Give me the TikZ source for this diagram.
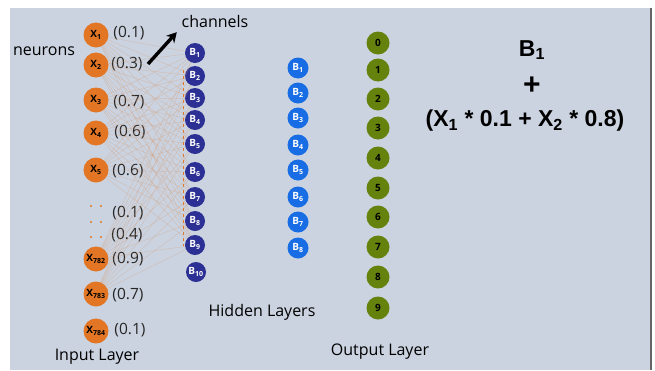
\documentclass[tikz,border=0pt]{standalone}
\usepackage{fontspec}
\setmainfont{Open Sans}
\newfontfamily\formulafont{Liberation Sans}
\usetikzlibrary{positioning, arrows.meta}
\definecolor{bgblue}{RGB}{203,211,224}
\definecolor{inorange}{RGB}{226,118,36}
\definecolor{hidnavy}{RGB}{44,48,148}
\definecolor{hidblue}{RGB}{24,108,228}
\definecolor{outgreen}{RGB}{100,130,12}
\definecolor{wirecol}{RGB}{214,150,105}
\tikzset{
	>=Stealth,
	innode/.style={circle, fill=inorange, minimum size=25pt, inner sep=0pt, font=\bfseries\fontsize{10}{10}\selectfont},
	navynode/.style={circle, fill=hidnavy, text=white, minimum size=20pt, inner sep=0pt, font=\bfseries\fontsize{10}{10}\selectfont},
	bluenode/.style={circle, fill=hidblue, text=white, minimum size=21pt, inner sep=0pt, font=\bfseries\fontsize{10}{10}\selectfont},
	outnode/.style={circle, fill=outgreen, minimum size=23pt, inner sep=0pt, font=\bfseries\fontsize{10}{10}\selectfont},
	weight/.style={font=\fontsize{15.5}{15.5}\selectfont, text=black!85},
	caption/.style={font=\fontsize{16}{16}\selectfont},
	wire/.style={draw=wirecol, opacity=0.4, line width=0.35pt},
	formula/.style={font=\formulafont\bfseries\fontsize{23}{23}\selectfont},
}

\begin{document}
\begin{tikzpicture}[x=1pt, y=-1pt]
	\useasboundingbox (0,0) rectangle (655,370);
	\fill[bgblue] (10,8) rectangle (651,370);
	\draw[black!60, line width=1.5pt] (651,8) -- (651,370);

	% input layer
	\node[innode] (x1) at (96,35) {X\textsubscript{1}};
	\node[innode] (x2) at (96,65) {X\textsubscript{2}};
	\node[innode] (x3) at (96,100) {X\textsubscript{3}};
	\node[innode] (x4) at (96,133) {X\textsubscript{4}};
	\node[innode] (x5) at (96,170) {X\textsubscript{5}};
	\node[innode] (x782) at (96,259) {X\textsubscript{782}};
	\node[innode] (x783) at (96,294) {X\textsubscript{783}};
	\node[innode] (x784) at (96,331) {X\textsubscript{784}};
	\fill[inorange] (91,206) circle (1.1) (101,206) circle (1.1);
	\fill[inorange] (91,222) circle (1.1) (101,222) circle (1.1);
	\fill[inorange] (91,237) circle (1.1) (101,237) circle (1.1);

	\node[weight] (w1) at (129,33) {(0.1)};
	\node[weight] (w2) at (127,64) {(0.3)};
	\node[weight] (w3) at (129,102) {(0.7)};
	\node[weight] (w4) at (130,132) {(0.6)};
	\node[weight] (w5) at (128,171) {(0.6)};
	\node[weight] (w6) at (128,213) {(0.1)};
	\node[weight] (w7) at (127,235) {(0.4)};
	\node[weight] (w8) at (128,259) {(0.9)};
	\node[weight] (w9) at (128,295) {(0.7)};
	\node[weight] (w10) at (130,330) {(0.1)};

	% first hidden layer
	\node[navynode] (h1) at (195,53) {B\textsubscript{1}};
	\node[navynode] (h2) at (195,76) {B\textsubscript{2}};
	\node[navynode] (h3) at (195,98) {B\textsubscript{3}};
	\node[navynode] (h4) at (195,120) {B\textsubscript{4}};
	\node[navynode] (h5) at (195,144) {B\textsubscript{5}};
	\node[navynode] (h6) at (195,172) {B\textsubscript{6}};
	\node[navynode] (h7) at (195,197) {B\textsubscript{7}};
	\node[navynode] (h8) at (195,221) {B\textsubscript{8}};
	\node[navynode] (h9) at (195,245) {B\textsubscript{9}};
	\node[navynode] (h10) at (196,272) {B\textsubscript{10}};
	\coordinate (dtop) at (183,70);
	\coordinate (dbot) at (183,246);
	\draw[inorange, dashed, line width=0.9pt] (dtop) -- (dbot);

	% channels
	\draw[wire] (x1) edge (h1) edge (h2) edge (h3) edge (h4) edge (h5) edge (h6) edge (h7) edge (h8) edge (h9);
	\draw[wire] (x2) edge (h1) edge (h2) edge (h3) edge (h4) edge (h5) edge (h6) edge (h7) edge (h8) edge (h9);
	\draw[wire] (x3) edge (h1) edge (h2) edge (h3) edge (h4) edge (h5) edge (h6) edge (h7) edge (h8) edge (h9);
	\draw[wire] (x4) edge (h1) edge (h2) edge (h3) edge (h4) edge (h5) edge (h6) edge (h7) edge (h8) edge (h9);
	\draw[wire] (x5) edge (h1) edge (h2) edge (h3) edge (h4) edge (h5) edge (h6) edge (h7) edge (h8) edge (h9);
	\draw[wire] (x782) edge (h1) edge (h2) edge (h3) edge (h4) edge (h5) edge (h6) edge (h7) edge (h8) edge (h9);
	\draw[wire] (x783) edge (h1) edge (h2) edge (h3) edge (h4) edge (h5) edge (h6) edge (h7) edge (h8) edge (h9);

	% second hidden layer
	\node[bluenode] (g1) at (298,68) {B\textsubscript{1}};
	\node[bluenode] (g2) at (298,93) {B\textsubscript{2}};
	\node[bluenode] (g3) at (298,118) {B\textsubscript{3}};
	\node[bluenode] (g4) at (298,145) {B\textsubscript{4}};
	\node[bluenode] (g5) at (298,170) {B\textsubscript{5}};
	\node[bluenode] (g6) at (298,197) {B\textsubscript{6}};
	\node[bluenode] (g7) at (298,222) {B\textsubscript{7}};
	\node[bluenode] (g8) at (298,248) {B\textsubscript{8}};

	% output layer
	\node[outnode] (o0) at (378,43) {0};
	\node[outnode] (o1) at (378,70) {1};
	\node[outnode] (o2) at (378,99) {2};
	\node[outnode] (o3) at (378,128) {3};
	\node[outnode] (o4) at (378,158) {4};
	\node[outnode] (o5) at (378,188) {5};
	\node[outnode] (o6) at (378,217) {6};
	\node[outnode] (o7) at (378,247) {7};
	\node[outnode] (o8) at (378,277) {8};
	\node[outnode] (o9) at (378,308) {9};

	% captions
	\node[caption] (neurons) at (44,51) {neurons};
	\node[caption] (channels) at (215,21) {channels};
	\coordinate (pointer) at (148,64);
	\draw[-{Stealth[length=10pt, width=11pt]}, line width=3.4pt, shorten >=2pt] (pointer) -- (channels.south west);
	\node[caption] (inlabel) at (97,357) {Input Layer};
	\node[caption] (hidlabel) at (262,312) {Hidden Layers};
	\node[caption] (outlabel) at (380,352) {Output Layer};

	% formula
	\node[formula] (bias) at (532,50) {B\textsubscript{1}};
	\node[formula, font=\formulafont\bfseries\fontsize{30}{30}\selectfont] (plus) at (532,86) {+};
	\node[formula] (sum) at (525,121) {(X\textsubscript{1} * 0.1 + X\textsubscript{2} * 0.8)};
\end{tikzpicture}
\end{document}
